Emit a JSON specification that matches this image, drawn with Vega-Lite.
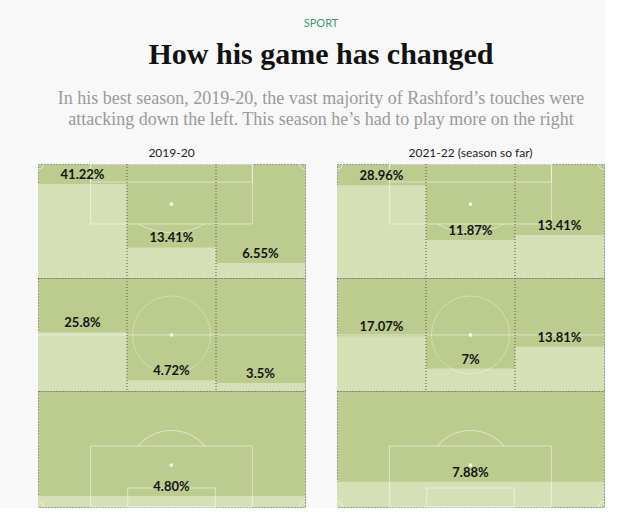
{
  "$schema": "https://vega.github.io/schema/vega-lite/v6.json",
  "background": "#f8f8f8",
  "padding": {"left": 37, "right": 0, "top": 18, "bottom": 0},
  "autosize": {"type": "pad"},
  "datasets": {
    "zones": [
      {"season": "2019-20", "row": 1, "col": "L", "value": 41.22, "label": "41.22%"},
      {"season": "2019-20", "row": 1, "col": "C", "value": 13.41, "label": "13.41%"},
      {"season": "2019-20", "row": 1, "col": "R", "value": 6.55, "label": "6.55%"},
      {"season": "2019-20", "row": 2, "col": "L", "value": 25.8, "label": "25.8%"},
      {"season": "2019-20", "row": 2, "col": "C", "value": 4.72, "label": "4.72%"},
      {"season": "2019-20", "row": 2, "col": "R", "value": 3.5, "label": "3.5%"},
      {"season": "2019-20", "row": 3, "col": "A", "value": 4.8, "label": "4.80%"},
      {"season": "2021-22", "row": 1, "col": "L", "value": 28.96, "label": "28.96%"},
      {"season": "2021-22", "row": 1, "col": "C", "value": 11.87, "label": "11.87%"},
      {"season": "2021-22", "row": 1, "col": "R", "value": 13.41, "label": "13.41%"},
      {"season": "2021-22", "row": 2, "col": "L", "value": 17.07, "label": "17.07%"},
      {"season": "2021-22", "row": 2, "col": "C", "value": 7, "label": "7%"},
      {"season": "2021-22", "row": 2, "col": "R", "value": 13.81, "label": "13.81%"},
      {"season": "2021-22", "row": 3, "col": "A", "value": 7.88, "label": "7.88%"}
    ]
  },
  "title": {"text": "SPORT", "font": "Lato", "fontSize": 11, "fontWeight": "normal", "color": "#3a9d74", "anchor": "middle", "offset": 11},
  "vconcat": [
    {
      "title": {
        "text": "How his game has changed",
        "subtitle": ["In his best season, 2019-20, the vast majority of Rashford’s touches were", "attacking down the left. This season he’s had to play more on the right"],
        "font": "Liberation Serif", "fontSize": 30, "fontWeight": "bold", "color": "#111111",
        "subtitleFont": "Liberation Serif", "subtitleFontSize": 18, "subtitleColor": "#9a9a9a", "subtitleLineHeight": 21, "subtitlePadding": 20,
        "anchor": "middle", "offset": 18
      },
      "spacing": 30,
      "hconcat": [
        {
          "title": {"text": "2019-20", "font": "Lato", "fontSize": 12, "fontWeight": "normal", "color": "#222", "anchor": "middle", "offset": 3},
          "spacing": 0,
          "bounds": "flush",
          "vconcat": [
            {
              "width": 267, "height": 114,
              "resolve": {"scale": {"x": "independent", "y": "independent"}},
              "layer": [
                {"data": {"name": "zones"}, "transform": [{"filter": "datum.season === '2019-20' && datum.row === 1"}],
                 "mark": {"type": "bar", "color": "#d6e0b7"},
                 "encoding": {"x": {"field": "col", "type": "nominal", "scale": {"domain": ["L", "C", "R"], "paddingInner": 0, "paddingOuter": 0}, "axis": null},
                              "y": {"field": "value", "type": "quantitative", "scale": {"domain": [0, 50]}, "axis": null}}},
                {"data": {"values": [{}]},
                 "layer": [
                   {"mark": {"type": "rect", "fillOpacity": 0, "stroke": "#ffffff", "strokeOpacity": 0.5, "strokeWidth": 1},
                    "encoding": {"x": {"datum": 19.7, "type": "quantitative", "scale": {"domain": [0, 100]}, "axis": null}, "x2": {"datum": 80.3},
                                 "y": {"datum": 0, "type": "quantitative", "scale": {"domain": [0, 100], "reverse": true}, "axis": null}, "y2": {"datum": 52.6}}},
                   {"mark": {"type": "rect", "fillOpacity": 0, "stroke": "#ffffff", "strokeOpacity": 0.5, "strokeWidth": 1},
                    "encoding": {"x": {"datum": 19.7, "type": "quantitative"}, "x2": {"datum": 80.3}, "y": {"datum": 0, "type": "quantitative"}, "y2": {"datum": 15.8}}},
                   {"mark": {"type": "arc", "fill": "#ffffff", "fillOpacity": 0.5, "radius": 68.7, "radius2": 67.7, "theta": 2.624, "theta2": 3.66},
                    "encoding": {"x": {"datum": 50, "type": "quantitative"}, "y": {"datum": 0.3, "type": "quantitative"}}},
                   {"mark": {"type": "arc", "fill": "#ffffff", "fillOpacity": 0.5, "radius": 6, "radius2": 5, "theta": 1.5708, "theta2": 3.1416},
                    "encoding": {"x": {"datum": 0, "type": "quantitative"}, "y": {"datum": 0, "type": "quantitative"}}},
                   {"mark": {"type": "arc", "fill": "#ffffff", "fillOpacity": 0.5, "radius": 6, "radius2": 5, "theta": 3.1416, "theta2": 4.7124},
                    "encoding": {"x": {"datum": 100, "type": "quantitative"}, "y": {"datum": 0, "type": "quantitative"}}},
                   {"mark": {"type": "point", "filled": true, "color": "#ffffff", "opacity": 0.85, "size": 14},
                    "encoding": {"x": {"datum": 50, "type": "quantitative"}, "y": {"datum": 35.1, "type": "quantitative"}}},
                   {"mark": {"type": "rule", "color": "#555555", "strokeDash": [1, 2]}, "encoding": {"x": {"datum": 33.33, "type": "quantitative"}}},
                   {"mark": {"type": "rule", "color": "#555555", "strokeDash": [1, 2]}, "encoding": {"x": {"datum": 66.67, "type": "quantitative"}}}
                 ]},
                {"data": {"name": "zones"}, "transform": [{"filter": "datum.season === '2019-20' && datum.row === 1"}],
                 "mark": {"type": "text", "font": "Lato", "fontWeight": "bold", "fontSize": 13, "baseline": "bottom", "dy": -2, "color": "#141414"},
                 "encoding": {"x": {"field": "col", "type": "nominal", "scale": {"domain": ["L", "C", "R"], "paddingInner": 0, "paddingOuter": 0}, "axis": null},
                              "y": {"field": "value", "type": "quantitative", "scale": {"domain": [0, 50]}, "axis": null},
                              "text": {"field": "label"}}}
              ]
            },
            {
              "width": 267, "height": 113,
              "resolve": {"scale": {"x": "independent", "y": "independent"}},
              "layer": [
                {"data": {"name": "zones"}, "transform": [{"filter": "datum.season === '2019-20' && datum.row === 2"}],
                 "mark": {"type": "bar", "color": "#d6e0b7"},
                 "encoding": {"x": {"field": "col", "type": "nominal", "scale": {"domain": ["L", "C", "R"], "paddingInner": 0, "paddingOuter": 0}, "axis": null},
                              "y": {"field": "value", "type": "quantitative", "scale": {"domain": [0, 49.6]}, "axis": null}}},
                {"data": {"values": [{}]},
                 "layer": [
                   {"mark": {"type": "rule", "color": "#ffffff", "opacity": 0.5},
                    "encoding": {"y": {"datum": 50.4, "type": "quantitative", "scale": {"domain": [0, 100], "reverse": true}, "axis": null},
                                 "x": {"datum": 0, "type": "quantitative", "scale": {"domain": [0, 100]}, "axis": null}, "x2": {"datum": 100}}},
                   {"mark": {"type": "point", "shape": "circle", "filled": false, "stroke": "#ffffff", "strokeOpacity": 0.5, "strokeWidth": 1, "size": 6084},
                    "encoding": {"x": {"datum": 50, "type": "quantitative"}, "y": {"datum": 50.4, "type": "quantitative"}}},
                   {"mark": {"type": "point", "filled": true, "color": "#ffffff", "opacity": 0.85, "size": 14},
                    "encoding": {"x": {"datum": 50, "type": "quantitative"}, "y": {"datum": 50.4, "type": "quantitative"}}},
                   {"mark": {"type": "rule", "color": "#555555", "strokeDash": [1, 2]}, "encoding": {"x": {"datum": 33.33, "type": "quantitative"}}},
                   {"mark": {"type": "rule", "color": "#555555", "strokeDash": [1, 2]}, "encoding": {"x": {"datum": 66.67, "type": "quantitative"}}}
                 ]},
                {"data": {"name": "zones"}, "transform": [{"filter": "datum.season === '2019-20' && datum.row === 2"}],
                 "mark": {"type": "text", "font": "Lato", "fontWeight": "bold", "fontSize": 13, "baseline": "bottom", "dy": -2, "color": "#141414"},
                 "encoding": {"x": {"field": "col", "type": "nominal", "scale": {"domain": ["L", "C", "R"], "paddingInner": 0, "paddingOuter": 0}, "axis": null},
                              "y": {"field": "value", "type": "quantitative", "scale": {"domain": [0, 49.6]}, "axis": null},
                              "text": {"field": "label"}}}
              ]
            },
            {
              "width": 267, "height": 116,
              "resolve": {"scale": {"x": "independent", "y": "independent"}},
              "layer": [
                {"data": {"name": "zones"}, "transform": [{"filter": "datum.season === '2019-20' && datum.row === 3"}],
                 "mark": {"type": "bar", "color": "#d6e0b7"},
                 "encoding": {"x": {"field": "col", "type": "nominal", "scale": {"domain": ["A"], "paddingInner": 0, "paddingOuter": 0}, "axis": null},
                              "y": {"field": "value", "type": "quantitative", "scale": {"domain": [0, 50.9]}, "axis": null}}},
                {"data": {"values": [{}]},
                 "layer": [
                   {"mark": {"type": "rect", "fillOpacity": 0, "stroke": "#ffffff", "strokeOpacity": 0.5, "strokeWidth": 1},
                    "encoding": {"x": {"datum": 19.7, "type": "quantitative", "scale": {"domain": [0, 100]}, "axis": null}, "x2": {"datum": 80.3},
                                 "y": {"datum": 47.4, "type": "quantitative", "scale": {"domain": [0, 100], "reverse": true}, "axis": null}, "y2": {"datum": 100}}},
                   {"mark": {"type": "rect", "fillOpacity": 0, "stroke": "#ffffff", "strokeOpacity": 0.5, "strokeWidth": 1},
                    "encoding": {"x": {"datum": 33.6, "type": "quantitative"}, "x2": {"datum": 66.4}, "y": {"datum": 83.6, "type": "quantitative"}, "y2": {"datum": 100}}},
                   {"mark": {"type": "arc", "fill": "#ffffff", "fillOpacity": 0.5, "radius": 44.1, "radius2": 43.1, "theta": -0.88, "theta2": 0.88},
                    "encoding": {"x": {"datum": 50, "type": "quantitative"}, "y": {"datum": 71.6, "type": "quantitative"}}},
                   {"mark": {"type": "arc", "fill": "#ffffff", "fillOpacity": 0.5, "radius": 6, "radius2": 5, "theta": 0, "theta2": 1.5708},
                    "encoding": {"x": {"datum": 0, "type": "quantitative"}, "y": {"datum": 100, "type": "quantitative"}}},
                   {"mark": {"type": "arc", "fill": "#ffffff", "fillOpacity": 0.5, "radius": 6, "radius2": 5, "theta": 4.7124, "theta2": 6.2832},
                    "encoding": {"x": {"datum": 100, "type": "quantitative"}, "y": {"datum": 100, "type": "quantitative"}}},
                   {"mark": {"type": "point", "filled": true, "color": "#ffffff", "opacity": 0.85, "size": 14},
                    "encoding": {"x": {"datum": 50, "type": "quantitative"}, "y": {"datum": 63.8, "type": "quantitative"}}}
                 ]},
                {"data": {"name": "zones"}, "transform": [{"filter": "datum.season === '2019-20' && datum.row === 3"}],
                 "mark": {"type": "text", "font": "Lato", "fontWeight": "bold", "fontSize": 13, "baseline": "bottom", "dy": -2, "color": "#141414"},
                 "encoding": {"x": {"field": "col", "type": "nominal", "scale": {"domain": ["A"], "paddingInner": 0, "paddingOuter": 0}, "axis": null},
                              "y": {"field": "value", "type": "quantitative", "scale": {"domain": [0, 50.9]}, "axis": null},
                              "text": {"field": "label"}}}
              ]
            }
          ]
        },
        {
          "title": {"text": "2021-22 (season so far)", "font": "Lato", "fontSize": 12, "fontWeight": "normal", "color": "#222", "anchor": "middle", "offset": 3},
          "spacing": 0,
          "bounds": "flush",
          "vconcat": [
            {
              "width": 267, "height": 114,
              "resolve": {"scale": {"x": "independent", "y": "independent"}},
              "layer": [
                {"data": {"name": "zones"}, "transform": [{"filter": "datum.season === '2021-22' && datum.row === 1"}],
                 "mark": {"type": "bar", "color": "#d6e0b7"},
                 "encoding": {"x": {"field": "col", "type": "nominal", "scale": {"domain": ["L", "C", "R"], "paddingInner": 0, "paddingOuter": 0}, "axis": null},
                              "y": {"field": "value", "type": "quantitative", "scale": {"domain": [0, 35.6]}, "axis": null}}},
                {"data": {"values": [{}]},
                 "layer": [
                   {"mark": {"type": "rect", "fillOpacity": 0, "stroke": "#ffffff", "strokeOpacity": 0.5, "strokeWidth": 1},
                    "encoding": {"x": {"datum": 19.7, "type": "quantitative", "scale": {"domain": [0, 100]}, "axis": null}, "x2": {"datum": 80.3},
                                 "y": {"datum": 0, "type": "quantitative", "scale": {"domain": [0, 100], "reverse": true}, "axis": null}, "y2": {"datum": 52.6}}},
                   {"mark": {"type": "rect", "fillOpacity": 0, "stroke": "#ffffff", "strokeOpacity": 0.5, "strokeWidth": 1},
                    "encoding": {"x": {"datum": 19.7, "type": "quantitative"}, "x2": {"datum": 80.3}, "y": {"datum": 0, "type": "quantitative"}, "y2": {"datum": 15.8}}},
                   {"mark": {"type": "arc", "fill": "#ffffff", "fillOpacity": 0.5, "radius": 68.7, "radius2": 67.7, "theta": 2.624, "theta2": 3.66},
                    "encoding": {"x": {"datum": 50, "type": "quantitative"}, "y": {"datum": 0.3, "type": "quantitative"}}},
                   {"mark": {"type": "arc", "fill": "#ffffff", "fillOpacity": 0.5, "radius": 6, "radius2": 5, "theta": 1.5708, "theta2": 3.1416},
                    "encoding": {"x": {"datum": 0, "type": "quantitative"}, "y": {"datum": 0, "type": "quantitative"}}},
                   {"mark": {"type": "arc", "fill": "#ffffff", "fillOpacity": 0.5, "radius": 6, "radius2": 5, "theta": 3.1416, "theta2": 4.7124},
                    "encoding": {"x": {"datum": 100, "type": "quantitative"}, "y": {"datum": 0, "type": "quantitative"}}},
                   {"mark": {"type": "point", "filled": true, "color": "#ffffff", "opacity": 0.85, "size": 14},
                    "encoding": {"x": {"datum": 50, "type": "quantitative"}, "y": {"datum": 35.1, "type": "quantitative"}}},
                   {"mark": {"type": "rule", "color": "#555555", "strokeDash": [1, 2]}, "encoding": {"x": {"datum": 33.33, "type": "quantitative"}}},
                   {"mark": {"type": "rule", "color": "#555555", "strokeDash": [1, 2]}, "encoding": {"x": {"datum": 66.67, "type": "quantitative"}}}
                 ]},
                {"data": {"name": "zones"}, "transform": [{"filter": "datum.season === '2021-22' && datum.row === 1"}],
                 "mark": {"type": "text", "font": "Lato", "fontWeight": "bold", "fontSize": 13, "baseline": "bottom", "dy": -2, "color": "#141414"},
                 "encoding": {"x": {"field": "col", "type": "nominal", "scale": {"domain": ["L", "C", "R"], "paddingInner": 0, "paddingOuter": 0}, "axis": null},
                              "y": {"field": "value", "type": "quantitative", "scale": {"domain": [0, 35.6]}, "axis": null},
                              "text": {"field": "label"}}}
              ]
            },
            {
              "width": 267, "height": 113,
              "resolve": {"scale": {"x": "independent", "y": "independent"}},
              "layer": [
                {"data": {"name": "zones"}, "transform": [{"filter": "datum.season === '2021-22' && datum.row === 2"}],
                 "mark": {"type": "bar", "color": "#d6e0b7"},
                 "encoding": {"x": {"field": "col", "type": "nominal", "scale": {"domain": ["L", "C", "R"], "paddingInner": 0, "paddingOuter": 0}, "axis": null},
                              "y": {"field": "value", "type": "quantitative", "scale": {"domain": [0, 35.3]}, "axis": null}}},
                {"data": {"values": [{}]},
                 "layer": [
                   {"mark": {"type": "rule", "color": "#ffffff", "opacity": 0.5},
                    "encoding": {"y": {"datum": 50.4, "type": "quantitative", "scale": {"domain": [0, 100], "reverse": true}, "axis": null},
                                 "x": {"datum": 0, "type": "quantitative", "scale": {"domain": [0, 100]}, "axis": null}, "x2": {"datum": 100}}},
                   {"mark": {"type": "point", "shape": "circle", "filled": false, "stroke": "#ffffff", "strokeOpacity": 0.5, "strokeWidth": 1, "size": 6084},
                    "encoding": {"x": {"datum": 50, "type": "quantitative"}, "y": {"datum": 50.4, "type": "quantitative"}}},
                   {"mark": {"type": "point", "filled": true, "color": "#ffffff", "opacity": 0.85, "size": 14},
                    "encoding": {"x": {"datum": 50, "type": "quantitative"}, "y": {"datum": 50.4, "type": "quantitative"}}},
                   {"mark": {"type": "rule", "color": "#555555", "strokeDash": [1, 2]}, "encoding": {"x": {"datum": 33.33, "type": "quantitative"}}},
                   {"mark": {"type": "rule", "color": "#555555", "strokeDash": [1, 2]}, "encoding": {"x": {"datum": 66.67, "type": "quantitative"}}}
                 ]},
                {"data": {"name": "zones"}, "transform": [{"filter": "datum.season === '2021-22' && datum.row === 2"}],
                 "mark": {"type": "text", "font": "Lato", "fontWeight": "bold", "fontSize": 13, "baseline": "bottom", "dy": -2, "color": "#141414"},
                 "encoding": {"x": {"field": "col", "type": "nominal", "scale": {"domain": ["L", "C", "R"], "paddingInner": 0, "paddingOuter": 0}, "axis": null},
                              "y": {"field": "value", "type": "quantitative", "scale": {"domain": [0, 35.3]}, "axis": null},
                              "text": {"field": "label"}}}
              ]
            },
            {
              "width": 267, "height": 116,
              "resolve": {"scale": {"x": "independent", "y": "independent"}},
              "layer": [
                {"data": {"name": "zones"}, "transform": [{"filter": "datum.season === '2021-22' && datum.row === 3"}],
                 "mark": {"type": "bar", "color": "#d6e0b7"},
                 "encoding": {"x": {"field": "col", "type": "nominal", "scale": {"domain": ["A"], "paddingInner": 0, "paddingOuter": 0}, "axis": null},
                              "y": {"field": "value", "type": "quantitative", "scale": {"domain": [0, 36.3]}, "axis": null}}},
                {"data": {"values": [{}]},
                 "layer": [
                   {"mark": {"type": "rect", "fillOpacity": 0, "stroke": "#ffffff", "strokeOpacity": 0.5, "strokeWidth": 1},
                    "encoding": {"x": {"datum": 19.7, "type": "quantitative", "scale": {"domain": [0, 100]}, "axis": null}, "x2": {"datum": 80.3},
                                 "y": {"datum": 47.4, "type": "quantitative", "scale": {"domain": [0, 100], "reverse": true}, "axis": null}, "y2": {"datum": 100}}},
                   {"mark": {"type": "rect", "fillOpacity": 0, "stroke": "#ffffff", "strokeOpacity": 0.5, "strokeWidth": 1},
                    "encoding": {"x": {"datum": 33.6, "type": "quantitative"}, "x2": {"datum": 66.4}, "y": {"datum": 83.6, "type": "quantitative"}, "y2": {"datum": 100}}},
                   {"mark": {"type": "arc", "fill": "#ffffff", "fillOpacity": 0.5, "radius": 44.1, "radius2": 43.1, "theta": -0.88, "theta2": 0.88},
                    "encoding": {"x": {"datum": 50, "type": "quantitative"}, "y": {"datum": 71.6, "type": "quantitative"}}},
                   {"mark": {"type": "arc", "fill": "#ffffff", "fillOpacity": 0.5, "radius": 6, "radius2": 5, "theta": 0, "theta2": 1.5708},
                    "encoding": {"x": {"datum": 0, "type": "quantitative"}, "y": {"datum": 100, "type": "quantitative"}}},
                   {"mark": {"type": "arc", "fill": "#ffffff", "fillOpacity": 0.5, "radius": 6, "radius2": 5, "theta": 4.7124, "theta2": 6.2832},
                    "encoding": {"x": {"datum": 100, "type": "quantitative"}, "y": {"datum": 100, "type": "quantitative"}}},
                   {"mark": {"type": "point", "filled": true, "color": "#ffffff", "opacity": 0.85, "size": 14},
                    "encoding": {"x": {"datum": 50, "type": "quantitative"}, "y": {"datum": 63.8, "type": "quantitative"}}}
                 ]},
                {"data": {"name": "zones"}, "transform": [{"filter": "datum.season === '2021-22' && datum.row === 3"}],
                 "mark": {"type": "text", "font": "Lato", "fontWeight": "bold", "fontSize": 13, "baseline": "bottom", "dy": -2, "color": "#141414"},
                 "encoding": {"x": {"field": "col", "type": "nominal", "scale": {"domain": ["A"], "paddingInner": 0, "paddingOuter": 0}, "axis": null},
                              "y": {"field": "value", "type": "quantitative", "scale": {"domain": [0, 36.3]}, "axis": null},
                              "text": {"field": "label"}}}
              ]
            }
          ]
        }
      ]
    }
  ],
  "config": {
    "view": {"fill": "#bccb8e", "stroke": "#555555", "strokeDash": [1, 2], "strokeWidth": 1}
  }
}
